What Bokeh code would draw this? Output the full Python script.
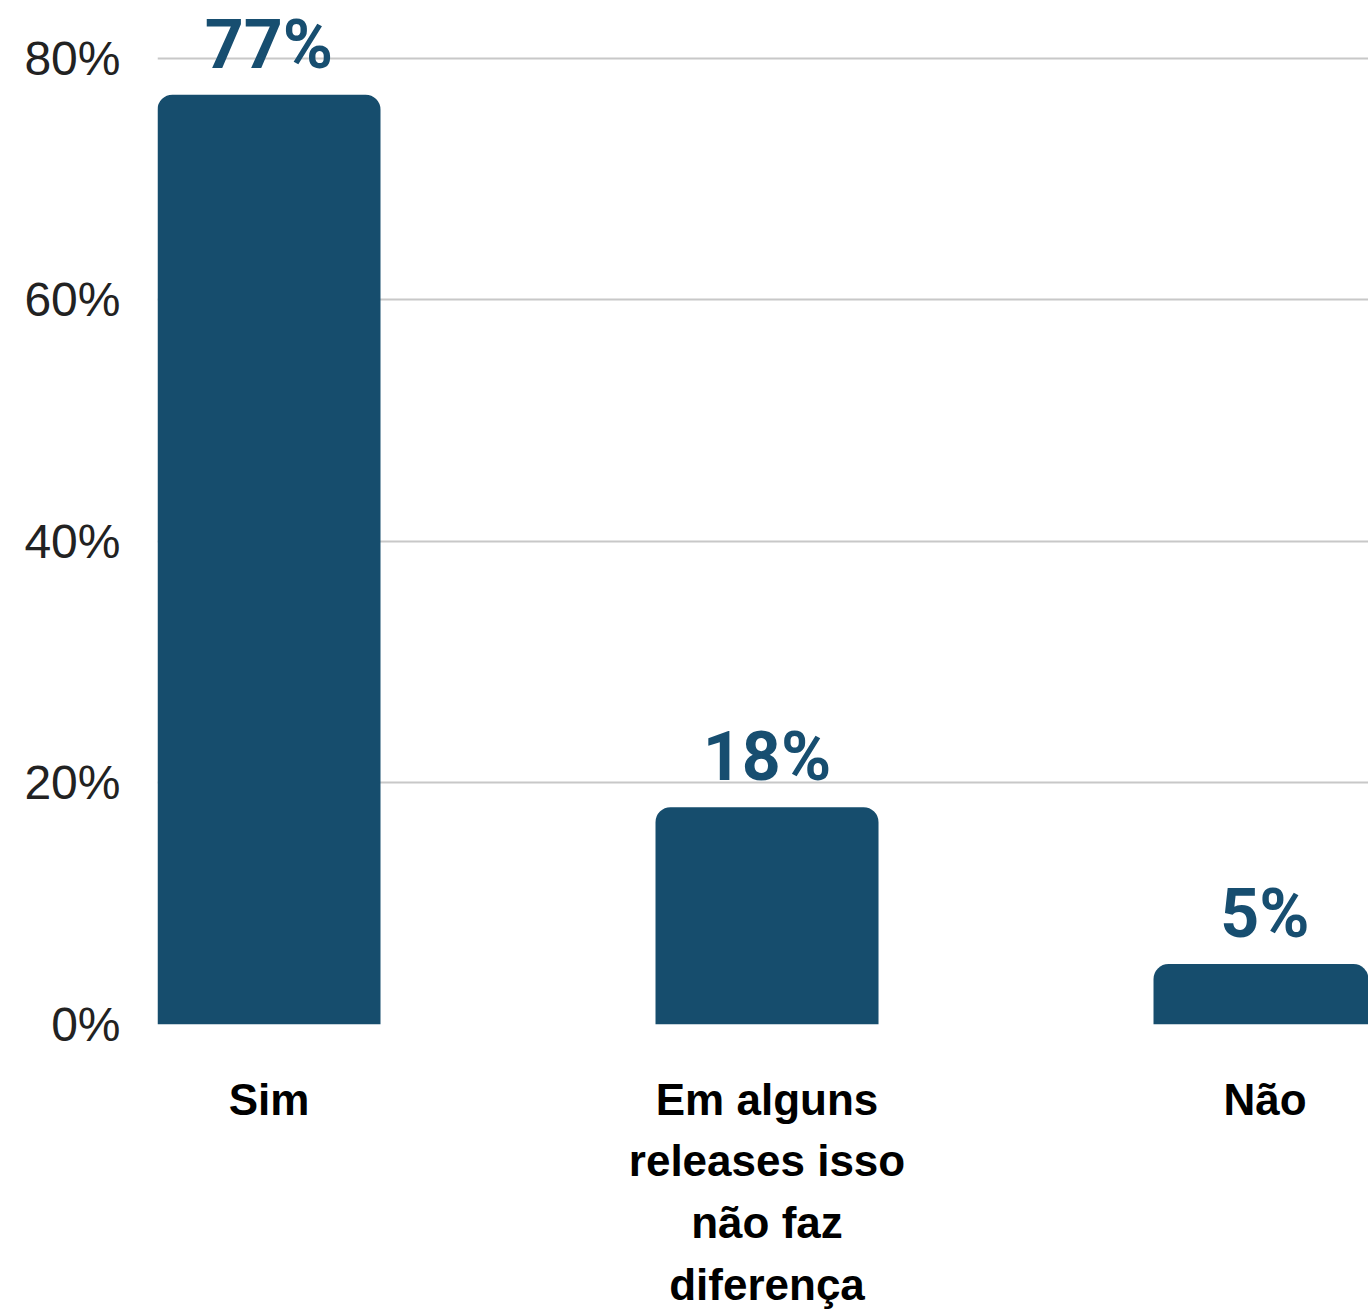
from bokeh.plotting import figure
from bokeh.models import Range1d, FixedTicker, ColumnDataSource, LabelSet
from bokeh.core.properties import value
from bokeh.embed import file_html
from bokeh.resources import INLINE

categories = ["Sim", "Em alguns\nreleases isso\nnão faz\ndiferença", "Não"]
values = [77, 18, 5]
value_labels = ["77%", "18%", "5%"]
y_ticks = [0, 20, 40, 60, 80]
y_tick_labels = ["0%", "20%", "40%", "60%", "80%"]

BAR = "#164d6d"
positions = list(range(len(categories)))

p = figure(width=1368, height=1312, output_backend="svg", toolbar_location=None,
           x_range=Range1d(-0.2239, 2.2078), y_range=Range1d(0, 84.8),
           min_border_left=157, min_border_right=0, min_border_top=0, min_border_bottom=288)
p.outline_line_color = None
p.background_fill_color = "white"
p.border_fill_color = "white"

src = ColumnDataSource(dict(x=positions, top=values, lab=value_labels))
p.vbar(x="x", top="top", width=0.4478, source=src, fill_color=BAR, line_color=None,
       border_radius=(15, 15, 0, 0))

labels = LabelSet(x="x", y="top", text="lab", source=src, y_offset=27,
                  text_align="center", text_baseline="alphabetic",
                  text_font=value("Roboto"), text_font_style="bold",
                  text_font_size="68px", text_color="#174e70")
p.add_layout(labels)

# y axis
p.yaxis.ticker = FixedTicker(ticks=y_ticks)
p.yaxis.major_label_overrides = {t: l for t, l in zip(y_ticks, y_tick_labels)}
p.yaxis.axis_line_color = None
p.yaxis.major_tick_line_color = None
p.yaxis.minor_tick_line_color = None
p.yaxis.major_tick_out = 0
p.yaxis.major_tick_in = 0
p.yaxis.minor_tick_out = 0
p.yaxis.major_label_text_font = "Liberation Sans"
p.yaxis.major_label_text_font_size = "48px"
p.yaxis.major_label_text_color = "#222222"
p.yaxis.major_label_standoff = 37

# x axis
p.xaxis.ticker = FixedTicker(ticks=positions)
p.xaxis.major_label_overrides = {i: c for i, c in zip(positions, categories)}
p.xaxis.axis_line_color = None
p.xaxis.major_tick_line_color = None
p.xaxis.minor_tick_line_color = None
p.xaxis.major_tick_out = 0
p.xaxis.major_tick_in = 0
p.xaxis.minor_tick_out = 0
p.xaxis.major_label_text_font = "Liberation Sans"
p.xaxis.major_label_text_font_style = "bold"
p.xaxis.major_label_text_font_size = "44px"
p.xaxis.major_label_text_color = "black"
p.xaxis.major_label_text_line_height = 1.26
p.xaxis.major_label_standoff = 50

p.xgrid.grid_line_color = None
p.ygrid.ticker = FixedTicker(ticks=y_ticks)
p.ygrid.grid_line_color = "#c8c8c8"
p.ygrid.grid_line_width = 2

open("out.html", "w").write(file_html(p, INLINE))
